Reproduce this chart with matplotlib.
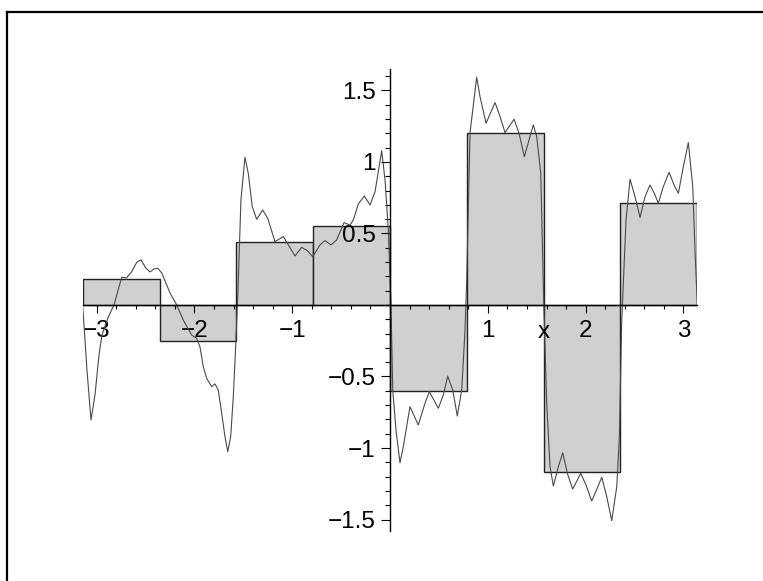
import numpy as np
import matplotlib
matplotlib.use("Agg")
import matplotlib.pyplot as plt
from matplotlib.lines import Line2D
from matplotlib.ticker import MultipleLocator

plt.rcParams['font.family'] = ['Liberation Sans', 'DejaVu Sans']

# step heights over 8 equal bins on [-pi, pi]
bar_heights = [0.18, -0.25, 0.443, 0.555, -0.60, 1.20, -1.168, 0.711]

# the wiggly curve
curve_x = [-3.142, -3.098, -3.057, -3.016, -2.975, -2.945, -2.883, -2.822, -2.743, -2.692,
           -2.641, -2.587, -2.546, -2.495, -2.454, -2.413, -2.375, -2.334, -2.249, -2.181,
           -2.114, -2.028, -1.977, -1.943, -1.909, -1.874, -1.823, -1.789, -1.756, -1.721,
           -1.687, -1.659, -1.629, -1.602, -1.578, -1.554, -1.524, -1.483, -1.449, -1.408,
           -1.363, -1.302, -1.250, -1.176, -1.091, -1.040, -0.971, -0.903, -0.846, -0.790,
           -0.716, -0.665, -0.603, -0.545, -0.470, -0.409, -0.375, -0.324, -0.263, -0.204,
           -0.153, -0.085, -0.051, -0.017, 0.010, 0.028, 0.061, 0.102, 0.136, 0.204,
           0.289, 0.358, 0.402, 0.494, 0.545, 0.590, 0.641, 0.688, 0.733, 0.767,
           0.784, 0.818, 0.886, 0.920, 0.982, 1.074, 1.125, 1.176, 1.268, 1.319,
           1.373, 1.465, 1.500, 1.541, 1.572, 1.602, 1.636, 1.670, 1.721, 1.766,
           1.813, 1.868, 1.950, 2.004, 2.062, 2.165, 2.216, 2.267, 2.318, 2.345,
           2.369, 2.413, 2.454, 2.505, 2.556, 2.607, 2.658, 2.702, 2.743, 2.794,
           2.853, 2.904, 2.948, 2.999, 3.050, 3.095, 3.119, 3.142]
curve_y = [0.0, -0.455, -0.804, -0.629, -0.350, -0.210, -0.090, 0.0, 0.194, 0.190,
           0.233, 0.300, 0.315, 0.257, 0.231, 0.252, 0.257, 0.224, 0.084, 0.0,
           -0.105, -0.210, -0.233, -0.292, -0.431, -0.513, -0.571, -0.552, -0.594, -0.755,
           -0.921, -1.026, -0.921, -0.641, -0.292, 0.105, 0.734, 1.033, 0.921, 0.687,
           0.599, 0.664, 0.606, 0.443, 0.478, 0.420, 0.343, 0.403, 0.380, 0.338,
           0.420, 0.450, 0.420, 0.455, 0.576, 0.559, 0.594, 0.706, 0.762, 0.699,
           0.792, 1.079, 0.874, 0.524, 0.0, -0.594, -0.874, -1.103, -0.991, -0.711,
           -0.839, -0.687, -0.606, -0.722, -0.629, -0.497, -0.594, -0.776, -0.594, -0.175,
           0.175, 1.203, 1.592, 1.457, 1.271, 1.415, 1.317, 1.205, 1.299, 1.201,
           1.037, 1.259, 1.177, 0.921, 0.0, -0.687, -1.131, -1.266, -1.131, -1.033,
           -1.177, -1.287, -1.177, -1.259, -1.371, -1.205, -1.341, -1.508, -1.271, -0.921,
           -0.105, 0.594, 0.879, 0.757, 0.611, 0.757, 0.839, 0.781, 0.711, 0.827,
           0.928, 0.839, 0.781, 0.967, 1.135, 0.827, 0.364, 0.0]

x_ticks = [-3, -2, -1, 1, 2, 3]
x_tick_labels = ['\u22123', '\u22122', '\u22121', '1', '2', '3']
y_ticks = [-1.5, -1, -0.5, 0.5, 1, 1.5]
y_tick_labels = ['\u22121.5', '\u22121', '\u22120.5', '0.5', '1', '1.5']

FS = 17.5

fig = plt.figure(figsize=(7.63, 5.81), dpi=100)
ax = fig.add_axes([0.1084, 0.0861, 0.8055, 0.7952])

n_bins = len(bar_heights)
edges = np.linspace(-np.pi, np.pi, n_bins + 1)
centers = (edges[:-1] + edges[1:]) / 2
ax.bar(centers, bar_heights, width=edges[1] - edges[0], color='#d0d0d0',
       edgecolor='#222222', linewidth=1.0, zorder=1)
ax.plot(curve_x, curve_y, color='#4a4a4a', lw=0.8, zorder=2)

ax.set_xlim(-np.pi, np.pi)
ax.set_ylim(-1.58, 1.65)

for side in ['top', 'right']:
    ax.spines[side].set_visible(False)
ax.spines['left'].set_position(('data', 0))
ax.spines['bottom'].set_position(('data', 0))
for side in ['left', 'bottom']:
    ax.spines[side].set_linewidth(1.0)
    ax.spines[side].set_zorder(3)

ax.set_xticks(x_ticks)
ax.set_xticklabels(x_tick_labels)
ax.set_yticks(y_ticks)
ax.set_yticklabels(y_tick_labels)
ax.xaxis.set_minor_locator(MultipleLocator(0.2))
ax.yaxis.set_minor_locator(MultipleLocator(0.1))
ax.tick_params(axis='x', which='major', direction='out', length=5.5, width=0.8, pad=5, labelsize=FS)
ax.tick_params(axis='x', which='minor', direction='out', length=3, width=0.8)
ax.tick_params(axis='y', which='major', direction='out', length=6.5, width=0.8, pad=4, labelsize=FS)
ax.tick_params(axis='y', which='minor', direction='out', length=3.4, width=0.8)
for lab in ax.get_xticklabels() + ax.get_yticklabels():
    lab.set_zorder(5)

ax.text(1.568, -0.19, 'x', ha='center', va='center', fontsize=FS)

# outer frame (only top and left edges fall inside the picture)
fig.add_artist(Line2D([0.0096, 0.0096], [0, 0.9788], transform=fig.transFigure, color='black', lw=1.6))
fig.add_artist(Line2D([0.0096, 1.0], [0.9788, 0.9788], transform=fig.transFigure, color='black', lw=1.6))

fig.savefig('out.png', dpi=100)
